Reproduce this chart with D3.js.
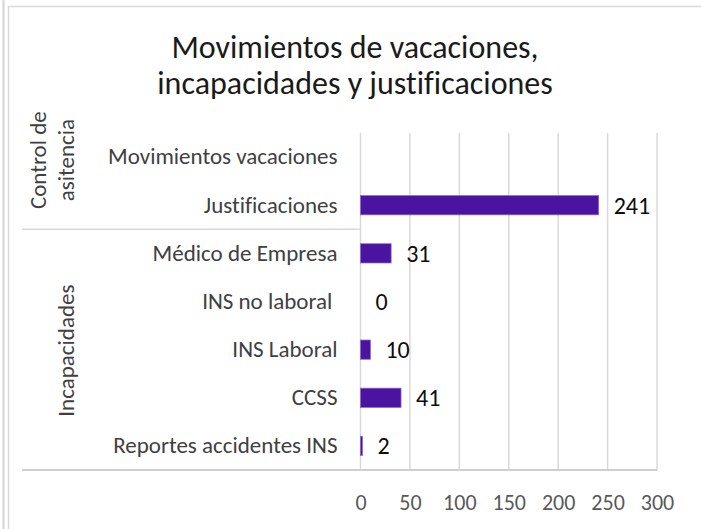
<!DOCTYPE html>
<html>
<head>
<meta charset="utf-8">
<script src="https://cdn.jsdelivr.net/npm/d3@7"></script>
<style>
  html, body { margin: 0; padding: 0; background: #fff; }
  svg { display: block; font-family: Carlito, Calibri, Lato, sans-serif; font-variant-ligatures: none; }
</style>
</head>
<body>
<svg width="701" height="529"></svg>
<script>
// chart data
var titleLines = ["Movimientos de vacaciones,", "incapacidades y justificaciones"];
var categories = ["Movimientos vacaciones", "Justificaciones", "Médico de Empresa", "INS no laboral ", "INS Laboral", "CCSS", "Reportes accidentes INS"];
var values = [null, 241, 31, 0, 10, 41, 2];
var groupNames = [["Control de", "asitencia"], ["Incapacidades"]];
var groupSizes = [2, 5];
var xTicks = [0, 50, 100, 150, 200, 250, 300];

(function() {
    var svg = d3.select("svg");
    var width = 701, height = 529;

    var plot = { left: 360.5, right: 657, top: 133, bottom: 470 };
    var axisLeftEdge = 22;
    var barColor = "#4a14a0";
    var gridColor = "#d9d9d9";

    // page edge + chart frame
    svg.append("line")
        .attr("x1", 3.5).attr("x2", 3.5).attr("y1", 0).attr("y2", height)
        .attr("stroke", "#d4d4d4").attr("stroke-width", 2);
    svg.append("rect")
        .attr("x", 8.5).attr("y", 6.5).attr("width", 720).attr("height", 560)
        .attr("fill", "#fff").attr("stroke", gridColor).attr("stroke-width", 1.5);

    // title
    svg.append("text")
        .attr("x", 355).attr("y", 58)
        .attr("text-anchor", "middle")
        .attr("font-size", 32)
        .attr("fill", "#1a1a1a")
        .selectAll("tspan")
        .data(titleLines)
      .enter().append("tspan")
        .attr("x", 355)
        .attr("dy", function(d, i) { return i === 0 ? 0 : 36; })
        .text(function(d) { return d; });

    var x = d3.scaleLinear()
        .domain([xTicks[0], xTicks[xTicks.length - 1]])
        .range([plot.left, plot.right]);

    var y = d3.scaleBand()
        .domain(categories)
        .range([plot.top, plot.bottom])
        .paddingInner(0.6)
        .paddingOuter(0.3);

    // vertical gridlines
    svg.append("g")
        .selectAll("line")
        .data(xTicks)
      .enter().append("line")
        .attr("x1", function(d) { return x(d); })
        .attr("x2", function(d) { return x(d); })
        .attr("y1", plot.top)
        .attr("y2", plot.bottom)
        .attr("stroke", gridColor)
        .attr("stroke-width", 1.5);

    // x axis labels
    var xAxis = svg.append("g")
        .attr("transform", "translate(0," + plot.bottom + ")")
        .call(d3.axisBottom(x).tickValues(xTicks).tickSize(0).tickPadding(24));
    xAxis.attr("font-family", null).attr("font-size", null);
    xAxis.select(".domain").remove();
    xAxis.selectAll("text")
        .attr("font-size", 22)
        .attr("fill", "#595959");

    // category axis: separators between groups
    var step = y.step();
    var groupStarts = [];
    var acc = 0;
    groupSizes.forEach(function(n) { groupStarts.push(acc); acc += n; });

    var sepY = groupStarts.slice(1).map(function(i) { return plot.top + step * i; });
    svg.append("g")
        .selectAll("line")
        .data(sepY)
      .enter().append("line")
        .attr("x1", axisLeftEdge).attr("x2", plot.left)
        .attr("y1", function(d) { return d; })
        .attr("y2", function(d) { return d; })
        .attr("stroke", gridColor).attr("stroke-width", 1.5);

    // bottom line of the category axis
    svg.append("line")
        .attr("x1", axisLeftEdge).attr("x2", plot.right)
        .attr("y1", plot.bottom).attr("y2", plot.bottom)
        .attr("stroke", "#cfcfcf").attr("stroke-width", 2);

    // category labels
    var yAxis = svg.append("g")
        .attr("transform", "translate(" + plot.left + ",0)")
        .call(d3.axisLeft(y).tickSize(0).tickPadding(23));
    yAxis.attr("font-family", null).attr("font-size", null);
    yAxis.select(".domain").remove();
    yAxis.selectAll("text")
        .attr("font-size", 23)
        .attr("fill", "#404040")
        .style("white-space", "pre");

    // group labels (rotated)
    var groupShift = [-21, 1];
    var lineGap = 28;
    var lastLineX = 74;
    groupNames.forEach(function(lines, gi) {
        var cy = plot.top + step * (groupStarts[gi] + groupSizes[gi] / 2) + groupShift[gi];
        lines.forEach(function(t, li) {
            var lx = lastLineX - (lines.length - 1 - li) * lineGap;
            svg.append("text")
                .attr("transform", "translate(" + lx + "," + cy + ") rotate(-90)")
                .attr("text-anchor", "middle")
                .attr("font-size", 23)
                .attr("fill", "#404040")
                .text(t);
        });
    });

    // bars
    var rows = categories.map(function(c, i) { return { cat: c, value: values[i] }; })
        .filter(function(d) { return d.value !== null; });

    svg.append("g")
        .selectAll("rect")
        .data(rows)
      .enter().append("rect")
        .attr("x", x(0))
        .attr("y", function(d) { return y(d.cat); })
        .attr("width", function(d) { return x(d.value) - x(0); })
        .attr("height", y.bandwidth())
        .attr("fill", barColor)
        .attr("stroke", "#8a68cf")
        .attr("stroke-width", function(d) { return d.value > 0 ? 0.75 : 0; });

    // value labels
    svg.append("g")
        .selectAll("text")
        .data(rows)
      .enter().append("text")
        .attr("x", function(d) { return x(d.value) + 15; })
        .attr("y", function(d) { return y(d.cat) + y.bandwidth() / 2; })
        .attr("dy", "0.35em")
        .attr("font-size", 24)
        .attr("fill", "#0d0d0d")
        .text(function(d) { return d.value; });
})();
</script>
</body>
</html>
